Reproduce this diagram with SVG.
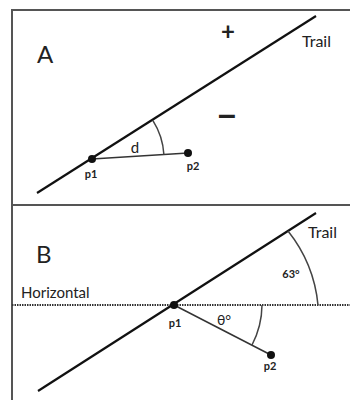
<svg xmlns="http://www.w3.org/2000/svg" width="350" height="400" viewBox="0 0 350 400">
<style>
.frame{fill:none;stroke:#555;stroke-width:2}
.trail{stroke:#111;stroke-width:2.2;fill:none}
.seg{stroke:#333;stroke-width:1.5;fill:none}
.arc{stroke:#444;stroke-width:1.5;fill:none}
.dot{fill:#111}
.lbl{font-family:Lato,"Open Sans","Liberation Sans",sans-serif;fill:#222}
.pl{font-family:Lato,"Open Sans","Liberation Sans",sans-serif;fill:#222;font-size:11px;font-weight:bold}
</style>
<rect width="350" height="400" fill="#fff"/>
<g id="frame">
<rect class="frame" x="12" y="10" width="345" height="195"/>
<path class="frame" d="M12 205 V402 M12 205 H352"/>
</g>
<g id="panelA">
<text class="lbl" x="37" y="63" font-size="24">A</text>
<text class="lbl" x="228" y="40" font-size="24" font-weight="bold" text-anchor="middle">+</text>
<text x="227" y="125" font-size="32" font-weight="bold" fill="#222" font-family="'Liberation Sans',sans-serif" text-anchor="middle">–</text>
<text class="lbl" x="302" y="47" font-size="16">Trail</text>
</g>
<g id="connectorsA">
<line class="trail" x1="37" y1="193" x2="316" y2="16"/>
<line class="seg" x1="92" y1="159" x2="188" y2="153"/>
<path class="arc" d="M152.8 120.4 A72 72 0 0 1 163.9 154.5"/>
</g>
<g id="p1A"><circle class="dot" cx="92" cy="159" r="4"/><text class="pl" x="91" y="178" text-anchor="middle">p1</text></g>
<g id="p2A"><circle class="dot" cx="188" cy="153" r="4"/><text class="pl" x="193" y="170" text-anchor="middle">p2</text></g>
<text class="lbl" x="135" y="153" font-size="15" text-anchor="middle">d</text>
<g id="panelB">
<text class="lbl" x="36" y="263" font-size="24">B</text>
<text class="lbl" x="308" y="238" font-size="16">Trail</text>
<text class="lbl" x="21" y="298" font-size="15">Horizontal</text>
<text class="pl" x="291" y="278" text-anchor="middle" font-size="10">63°</text>
<text class="lbl" x="224" y="325" font-size="14" text-anchor="middle">θ°</text>
</g>
<g id="connectorsB">
<line x1="12" y1="305" x2="350" y2="305" stroke="#333" stroke-width="2" stroke-dasharray="1.5 1"/>
<line class="trail" x1="38" y1="391" x2="316" y2="213"/>
<line class="seg" x1="174" y1="305" x2="271" y2="355"/>
<path class="arc" d="M288 231 A140 140 0 0 1 318 305"/>
<path class="arc" d="M262 305 A88 88 0 0 1 252 345"/>
</g>
<g id="p1B"><circle class="dot" cx="174" cy="305" r="4"/><text class="pl" x="175" y="327" text-anchor="middle">p1</text></g>
<g id="p2B"><circle class="dot" cx="271" cy="355" r="4"/><text class="pl" x="270" y="370" text-anchor="middle">p2</text></g>
</svg>
